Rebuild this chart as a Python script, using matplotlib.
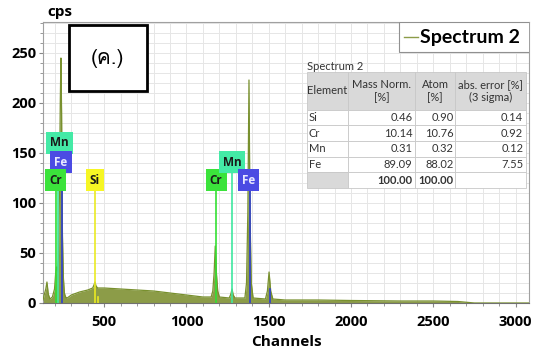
import matplotlib
matplotlib.use("Agg")
import matplotlib.pyplot as plt
from matplotlib import font_manager
from matplotlib.ft2font import FT2Font
from matplotlib.patches import Rectangle
from matplotlib.lines import Line2D
from matplotlib.ticker import MultipleLocator

# Spectrum outline (channel, cps)
channels = [128, 135, 145, 152, 160, 170, 185, 198, 205, 210, 216, 222, 228, 233,
            237, 241, 246, 252, 258, 265, 275, 300, 350, 400, 430, 438, 444, 450,
            460, 500, 600, 700, 800, 900, 1000, 1100, 1150, 1160, 1168, 1175, 1182,
            1190, 1200, 1260, 1270, 1277, 1284, 1295, 1355, 1365, 1373, 1380, 1386,
            1394, 1405, 1480, 1492, 1502, 1512, 1525, 1600, 1800, 2000, 2300, 2500,
            2650, 2750, 3082]
counts = [3, 8, 14, 21, 9, 4, 6, 14, 30, 36, 32, 45, 110, 200,
          245, 190, 70, 25, 10, 6, 5, 8, 11, 13, 15, 18, 21, 17,
          15, 15, 14, 13, 12, 10, 8, 6, 6, 12, 30, 57, 30,
          12, 6, 5, 9, 14, 8, 5, 5, 20, 90, 223, 90,
          20, 5, 4, 12, 31, 12, 4, 3, 3, 2.5, 2, 2,
          1.5, 0, 0]

# element marker lines: name, channel, top of line (cps)
line_names = ["Cr", "Mn", "Fe", "Si", "Si", "Cr", "Mn", "Fe", "Fe"]
line_chan = [205, 222, 243, 444, 462, 1180, 1277, 1385, 1505]
line_top = [115, 150, 132, 115, 6, 115, 133, 115, 14]

# element labels: name, channel, cps
label_names = ["Mn", "Fe", "Cr", "Si", "Cr", "Mn", "Fe"]
label_chan = [228, 237, 204, 444, 1180, 1277, 1378]
label_cps = [160, 141, 123, 123, 123, 141, 123]

colors = {"Cr": "#33e033", "Mn": "#3ee8a0", "Fe": "#2f3fd0", "Si": "#eaea22"}
box_colors = {"Cr": "#3be33b", "Mn": "#44eaa6", "Fe": "#4b4be3", "Si": "#f6f624"}
text_colors = {"Cr": "#1a1a1a", "Mn": "#1a1a1a", "Fe": "#e8e8ff", "Si": "#1a1a1a"}

# quantification table
elements = ["Si", "Cr", "Mn", "Fe", ""]
mass_norm = ["0.46", "10.14", "0.31", "89.09", "100.00"]
atom = ["0.90", "10.76", "0.32", "88.02", "100.00"]
abs_err = ["0.14", "0.92", "0.12", "7.55", ""]


def find_family(ch):
    # look for an installed font that has a glyph for ch
    for fe in font_manager.fontManager.ttflist:
        try:
            if ord(ch) in FT2Font(fe.fname).get_charmap():
                return fe.name
        except Exception:
            continue
    return "DejaVu Sans"


thai_family = find_family("ค")

plt.rcParams["font.family"] = ["Open Sans", "DejaVu Sans"]

fig = plt.figure(figsize=(5.34, 3.51), dpi=100)
ax = fig.add_axes([43 / 534, 1 - 303 / 351, 486 / 534, 281 / 351])

ax.fill_between(channels, counts, 0, color="#8c9c48", lw=0, zorder=2)
ax.plot(channels, counts, color="#78902e", lw=0.9, zorder=3)

for name, ch, top in zip(line_names, line_chan, line_top):
    ax.plot([ch, ch], [0, top], color=colors[name], lw=1.2, zorder=4)

for name, ch, y in zip(label_names, label_chan, label_cps):
    ax.text(ch, y, name, ha="center", va="center", fontsize=8.5, fontweight="bold",
            color=text_colors[name], zorder=6,
            bbox=dict(boxstyle="square,pad=0.35", fc=box_colors[name], ec="none"))

ax.set_xlim(128, 3082)
ax.set_ylim(0, 281)
ax.xaxis.set_major_locator(MultipleLocator(500))
ax.xaxis.set_minor_locator(MultipleLocator(100))
ax.yaxis.set_major_locator(MultipleLocator(50))
ax.yaxis.set_minor_locator(MultipleLocator(10))
ax.grid(which="both", color="#e6e6e6", lw=0.7, zorder=0)
ax.set_axisbelow(True)
ax.tick_params(which="major", labelsize=10.5, length=3, color="#888888", pad=2)
ax.tick_params(axis="x", which="major", pad=6)
ax.tick_params(which="minor", length=2, color="#888888")
for lab in ax.get_xticklabels() + ax.get_yticklabels():
    lab.set_fontweight("bold")
for sp in ax.spines.values():
    sp.set_color("#a0a0a0")
ax.spines["bottom"].set_color("#707070")

ax.set_xlabel("Channels", fontsize=11, fontweight="bold", labelpad=4)
fig.text(47 / 534, 1 - 12 / 351, "cps", fontsize=11, fontweight="bold", va="center")

# legend box
ax.add_patch(Rectangle((399 / 534, 1 - 52 / 351), 131 / 534, 30 / 351,
                       transform=fig.transFigure, fc="white", ec="#909090", lw=0.8, zorder=7))
fig.lines.append(Line2D([404 / 534, 418 / 534], [1 - 37 / 351] * 2,
                        transform=fig.transFigure, color="#8c9c48", lw=1))
fig.text(420 / 534, 1 - 37 / 351, "Spectrum 2", fontsize=14, fontweight="bold",
         family=["Lato", "DejaVu Sans"], va="center", zorder=8)

# annotation box
ax.add_patch(Rectangle((69 / 534, 1 - 91 / 351), 78 / 534, 66 / 351,
                       transform=fig.transFigure, fc="white", ec="black", lw=2, zorder=5))
fig.text(108 / 534, 1 - 58 / 351, "(ค.)", fontsize=15, ha="center", va="center",
         family=[thai_family, "DejaVu Sans"])

# table
x0, y0, w, h = (307 - 43) / 486, (303 - 188) / 281, 219 / 486, 116 / 281
ax.text(x0, (303 - 67) / 281, "Spectrum 2", transform=ax.transAxes, fontsize=8,
        family=["Lato", "DejaVu Sans"], color="#333333", va="center", zorder=8)
cell_text = [[e, m, a, r] for e, m, a, r in zip(elements, mass_norm, atom, abs_err)]
tab = ax.table(cellText=cell_text,
               colLabels=["Element", "Mass Norm.\n[%]", "Atom\n[%]", "abs. error [%]\n(3 sigma)"],
               colWidths=[41, 67, 40, 71], bbox=[x0, y0, w, h], zorder=8)
tab.auto_set_font_size(False)
for (r, c), cell in tab.get_celld().items():
    cell.set_edgecolor("#c8c8c8")
    cell.set_linewidth(0.6)
    cell.set_text_props(fontsize=8, color="#333333", family=["Lato", "DejaVu Sans"])
    cell.PAD = 0.04
    if r == 0:
        cell.set_facecolor("#d9d9d9")
        cell.get_text().set_ha("center")
        cell.set_height(cell.get_height() * 2.4)
    else:
        cell.set_facecolor("white")
        cell.get_text().set_ha("left" if c == 0 else "right")
        if r == 5 and c == 0:
            cell.set_facecolor("#d9d9d9")
        if r == 5:
            cell.get_text().set_fontweight("bold")

fig.savefig("out.png", dpi=100)
